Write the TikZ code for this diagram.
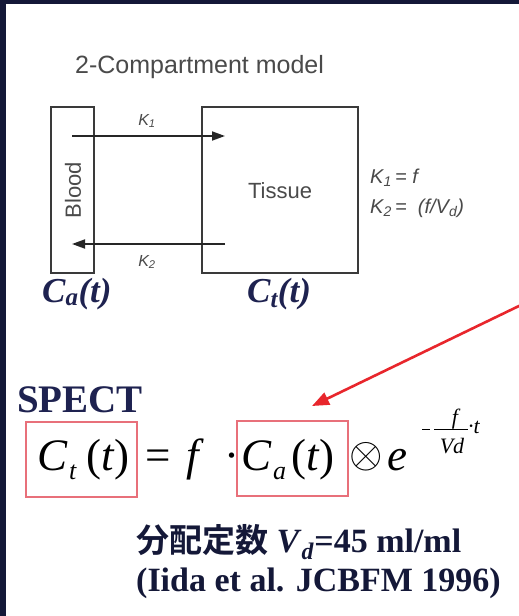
\documentclass[tikz,border=0pt]{standalone}
\usepackage{fontspec}
\usepackage{graphicx}
\setmainfont{Liberation Serif}
\setsansfont{Liberation Sans}
\newfontfamily\cjk{Noto Sans CJK JP Bold}
\usetikzlibrary{arrows.meta}
\definecolor{navy}{HTML}{141838}
\definecolor{slate}{HTML}{1E2250}
\definecolor{dgray}{HTML}{3A3A3A}
\definecolor{tgray}{HTML}{4A4A4A}
\definecolor{redarrow}{HTML}{E8262C}
\definecolor{boxred}{HTML}{E8707A}
\newcommand{\fsz}[1]{\fontsize{#1}{#1}\selectfont}
\begin{document}
\begin{tikzpicture}[x=1pt,y=-1pt,
  compbox/.style={draw=dgray,line width=1.6pt},
  flow/.style={draw=black!85,line width=1.8pt,-{Triangle[length=13pt,width=9pt]}},
  dtext/.style={font=\sffamily\fsz{22},text=tgray,inner sep=0pt},
  klab/.style={font=\sffamily\itshape\fsz{16},text=tgray,inner sep=0pt},
  keq/.style={font=\sffamily\itshape\fsz{20},text=tgray,inner sep=0pt,anchor=base west},
  ctext/.style={font=\bfseries\itshape\fsz{35},text=slate,inner sep=0pt,anchor=base west},
  eq/.style={font=\fsz{45},text=black,inner sep=0pt,anchor=base west},
  eqsub/.style={font=\itshape\fsz{26},text=black,inner sep=0pt,anchor=base west},
  eqsup/.style={font=\itshape\fsz{22},text=black,inner sep=0pt},
  hlbox/.style={draw=boxred,line width=1.1pt}]
\useasboundingbox (0,0) rectangle (519,616);
\fill[navy] (0,0) rectangle (519,616);
\fill[white] (6,4) rectangle (519,616);

% title
\node[font=\sffamily\fsz{25},text=tgray,anchor=base west,inner sep=0pt] (title) at (75,73) {2-Compartment model};

% compartments
\draw[compbox] (51,107) rectangle (94,273);
\coordinate (bloodtop) at (72,136);
\coordinate (bloodbot) at (72,244);
\draw[compbox] (202,107) rectangle (358,273);
\coordinate (tissuetop) at (225,136);
\coordinate (tissuebot) at (225,244);
\node[dtext,rotate=90] (blood) at (73,190) {Blood};
\node[dtext] (tissue) at (280,191) {Tissue};

\draw[flow] (bloodtop) -- (tissuetop);
\draw[flow] (tissuebot) -- (bloodbot);
\node[klab] (k1) at (147,121) {K\textsubscript{1}};
\node[klab] (k2) at (147,262) {K\textsubscript{2}};

\node[keq] (k1eq) at (370,183) {K\textsubscript{1}\,= \textit{f}};
\node[keq] (k2eq) at (370,213) {K\textsubscript{2}\,= \ (\textit{f}/V\textsubscript{d})};

\node[ctext] (ca) at (42,302) {C\textsubscript{\fsz{25}a}(t)};
\node[ctext] (ct) at (247,302) {C\textsubscript{\fsz{25}t}(t)};

% SPECT
\node[font=\bfseries\fsz{39},text=slate,inner sep=0pt,anchor=base west] (spect) at (17,412) {SPECT};

% equation
\draw[hlbox] (26,422) rectangle (137,497);
\node[eq] (c1) at (37,470) {\itshape C};
\node[eqsub] (t1) at (69,479) {t};
\node[eq] (p1) at (86,470) {(\textit{t})};
\node[eq] (equal) at (145,470) {=};
\node[eq] (f) at (186,470) {\itshape f};
\node[eq] (dot) at (224,470) {·};
\draw[hlbox] (237,421) rectangle (348,496);
\node[eq] (c2) at (241,470) {\itshape C};
\node[eqsub] (a2) at (273,479) {a};
\node[eq] (p2) at (291,470) {(\textit{t})};
\node[inner sep=0pt] (otimes) at (366,457) {\scalebox{4.3}{$\otimes$}};
\node[eq] (e) at (387,470) {\itshape e};
\draw[line width=1pt] (422,429) -- (430,429);
\node[eqsup] (sf) at (455,419) {f};
\draw[line width=1pt] (434,429) -- (468,429);
\node[eqsup] (svd) at (452,446) {Vd};
\node[eqsup,anchor=base west] (st) at (468,433) {·t};

% red arrow
\coordinate (redstart) at (521,305);
\coordinate (redend) at (312,406);
\draw[redarrow,line width=2.6pt,-{Triangle[length=17pt,width=13pt]}] (redstart) -- (redend);

% notes
\node[inner sep=0pt,anchor=base west,text=navy] (vd) at (136,552)
  {{\cjk\fsz{33}分配定数}\fsz{34}\bfseries\ \textit{V}\textsubscript{\textit{d}}=45 ml/ml};
\node[inner sep=0pt,anchor=base west,text=navy,font=\bfseries\fsz{34}] (ref) at (136,591) {(Iida et al. JCBFM 1996)};
\end{tikzpicture}
\end{document}
